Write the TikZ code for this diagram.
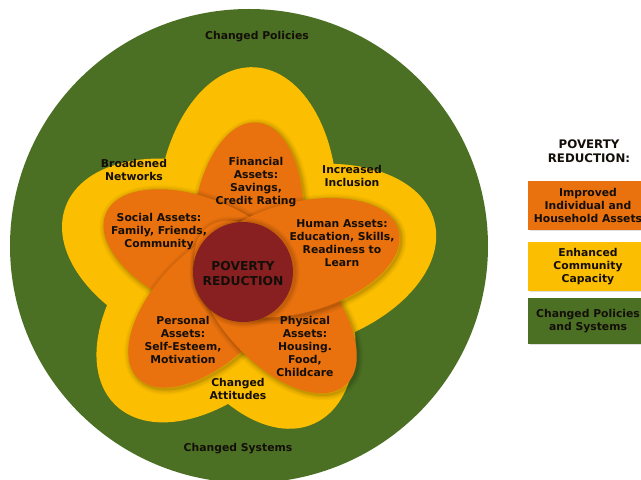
\documentclass[tikz,border=0pt]{standalone}
\usepackage{fontspec}
\setmainfont{DejaVu Sans}
\usetikzlibrary{shadows}
\definecolor{fgreen}{RGB}{75,112,35}
\definecolor{fyellow}{RGB}{252,190,0}
\definecolor{forange}{RGB}{233,113,14}
\definecolor{fmaroon}{RGB}{136,31,32}
\definecolor{ftext}{RGB}{20,14,8}
\newcommand\mypetal[5]{%
  \foreach \w/\o in {11/0.035,8/0.045,5/0.06,2.5/0.08}{%
    \draw[shift={(C)},xshift=1.5,yshift=-1.5,rotate=#1,line width=\w pt,draw=black,draw opacity=\o] (#2,0) ellipse [x radius=#3,y radius=#4];}
  \fill[shift={(C)},rotate=#1,#5] (#2,0) ellipse [x radius=#3,y radius=#4];}
\newcommand\myleaf[4]{%
  \fill[shift={(C)},rotate=#1,fyellow] (#2,0) ellipse [x radius=#3,y radius=#4];}
\begin{document}
\begin{tikzpicture}[x=1pt,y=1pt,
  lbl/.style={text=ftext,align=center,inner sep=0pt,font=\fontsize{10.8}{13}\selectfont\bfseries},
  legbox/.style={lbl,minimum width=120pt,drop shadow={opacity=0.25,shadow xshift=1.5pt,shadow yshift=-1.5pt}}]
\useasboundingbox (0,0) rectangle (641,480);
\clip (0,0) rectangle (641,480);
\coordinate (C) at (244,208);
% outer green ellipse
\fill[fgreen] (249,234) ellipse [x radius=239, y radius=237];
% yellow flower
\myleaf{87}{60}{145}{90}
\myleaf{15}{52}{145}{90}
\myleaf{-65}{22}{145}{90}
\myleaf{-134}{40}{145}{90}
\myleaf{160}{45}{145}{90}
\fill[fyellow] (C) circle (110);
% orange petals
\mypetal{85}{45}{105}{55}{forange}
\mypetal{157}{45}{105}{55}{forange}
\mypetal{-135}{45}{105}{55}{forange}
\mypetal{-48}{47}{105}{55}{forange}
\mypetal{15}{55}{105}{55}{forange}
% centre
\foreach \w/\o in {10/0.04,7/0.05,4/0.07}{\draw[line width=\w pt,draw=black,draw opacity=\o] ([shift={(1.5,-1.5)}]C) ++(-1,1) circle (50);}
\node[circle,fill=fmaroon,minimum size=100pt,inner sep=0pt] (core) at (243,208) {};
\node[lbl,font=\fontsize{12.3}{14.8}\selectfont\bfseries] (coretxt) at (243,206.5) {POVERTY\\REDUCTION};
% labels
\node[lbl] (policies) at (257,443) {Changed Policies};
\node[lbl] (systems) at (238,31) {Changed Systems};
\node[lbl] (networks) at (134,310) {Broadened\\Networks};
\node[lbl] (inclusion) at (352,304) {Increased\\Inclusion};
\node[lbl] (attitudes) at (238,91.5) {Changed\\Attitudes};
\node[lbl] (financial) at (256,297.5) {Financial\\Assets:\\Savings,\\Credit Rating};
\node[lbl] (social) at (159,248.5) {Social Assets:\\Family, Friends,\\Community};
\node[lbl] (human) at (342,237) {Human Assets:\\Education, Skills,\\Readiness to\\Learn};
\node[lbl] (personal) at (183,140.5) {Personal\\Assets:\\Self-Esteem,\\Motivation};
\node[lbl] (physical) at (305,134) {Physical\\Assets:\\Housing.\\Food,\\Childcare};
% legend
\node[lbl,font=\fontsize{11.8}{14}\selectfont\bfseries] (legtitle) at (589,329) {POVERTY\\REDUCTION:};
\node[legbox,fill=forange,minimum height=49pt] (leg1) at (588,274.5) {Improved\\Individual and\\Household Assets};
\node[legbox,fill=fyellow,minimum height=49pt] (leg2) at (588,213.5) {Enhanced\\Community\\Capacity};
\node[legbox,fill=fgreen,minimum height=46pt] (leg3) at (588,159) {Changed Policies\\and Systems};
\end{tikzpicture}
\end{document}
